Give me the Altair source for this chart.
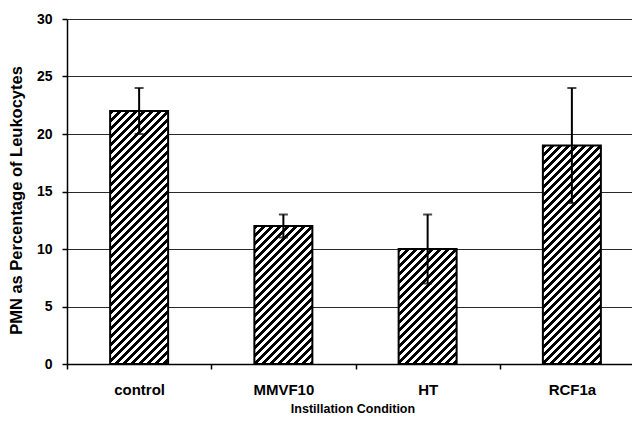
import altair as alt
import pandas as pd

# ---- data ----
categories = ["control", "MMVF10", "HT", "RCF1a"]
means = [22, 12, 10, 19]
err_low = [20, 11, 7, 14]
err_high = [24, 13, 13, 24]
y_ticks = [0, 5, 10, 15, 20, 25, 30]

# ---- layout / style ----
W, H = 565, 345
Y_MAX = 30
X_RANGE = 577               # bands run past the right edge, as in the cropped original
STEP = X_RANGE / len(categories)
BAR_FRAC = 0.402
PERIOD = 8.0  # hatch period measured along x (px)
SANS = "Liberation Sans, Arial, sans-serif"

df = pd.DataFrame({"cat": categories, "mean": means, "lo": err_low, "hi": err_high})


def hatch(value):
    """Diagonal '/' stripes as a hard-stop linear gradient (objectBoundingBox units)."""
    w = STEP * BAR_FRAC
    h = value * H / Y_MAX
    denom = w * w + h * h
    stops = []
    k = 0
    while k * PERIOD <= w + h + PERIOD:
        t0 = w * k * PERIOD / denom
        t1 = w * (k + 0.5) * PERIOD / denom
        t2 = w * (k + 1) * PERIOD / denom
        stops += [
            {"offset": round(min(t0, 1), 5), "color": "black"},
            {"offset": round(min(t1, 1), 5), "color": "black"},
            {"offset": round(min(t1, 1), 5), "color": "white"},
            {"offset": round(min(t2, 1), 5), "color": "white"},
        ]
        k += 1
    return {"gradient": "linear", "x1": 0, "y1": 0, "x2": 1, "y2": round(h / w, 5), "stops": stops}


x_enc = alt.X(
    "cat:N",
    sort=categories,
    scale=alt.Scale(paddingInner=0, paddingOuter=0, range=[0, X_RANGE]),
    axis=alt.Axis(
        title="Instillation Condition",
        labelAngle=0,
        tickBand="extent",
        tickSize=5,
        labelPadding=13,
        labelFont=SANS,
        labelFontSize=15,
        labelFontWeight="bold",
        titleFont=SANS,
        titleFontSize=12.5,
        titleFontWeight="bold",
        titleBaseline="top",
        titleX=W / 2 + 3,
        titleY=38,
        grid=False,
    ),
)

y_axis = alt.Axis(
    values=y_ticks,
    title="PMN as Percentage of Leukocytes",
    grid=True,
    gridColor="#2a2a2a",
    gridWidth=1,
    tickSize=5,
    labelPadding=10,
    labelFont=SANS,
    labelFontSize=14,
    labelFontWeight="bold",
    titleFont=SANS,
    titleFontSize=16.5,
    titleFontWeight="bold",
    titleBaseline="alphabetic",
    titleX=-46,
    titleY=181,
)
y_scale = alt.Scale(domain=[0, Y_MAX], nice=False)

base = alt.Chart(df).encode(x=x_enc)

bar_layers = []
for c, v in zip(categories, means):
    bar_layers.append(
        base.transform_filter(alt.datum.cat == c)
        .mark_bar(fill=hatch(v), stroke="black", strokeWidth=2, width=alt.RelativeBandSize(BAR_FRAC))
        .encode(y=alt.Y("mean:Q", scale=y_scale, axis=y_axis))
    )

err_rule = base.mark_rule(color="black", strokeWidth=2).encode(
    y=alt.Y("lo:Q", scale=y_scale, axis=y_axis), y2="hi:Q"
)
cap_hi = base.mark_tick(color="black", thickness=2, size=9).encode(y=alt.Y("hi:Q", scale=y_scale, axis=y_axis))
cap_lo = base.mark_tick(color="black", thickness=2, size=9).encode(y=alt.Y("lo:Q", scale=y_scale, axis=y_axis))

chart = (
    alt.layer(*bar_layers, err_rule, cap_hi, cap_lo)
    .properties(
        width=W,
        height=H,
        autosize=alt.AutoSizeParams(type="none"),
        padding={"left": 59, "top": 11, "right": 0, "bottom": 52},
        background="white",
    )
    .configure_view(stroke=None)
    .configure_axis(
        domainColor="black",
        domainWidth=1.5,
        tickColor="black",
        tickWidth=1.5,
        labelColor="black",
        titleColor="black",
    )
)

chart.save("out.html", embed_options={"renderer": "svg", "actions": False})
